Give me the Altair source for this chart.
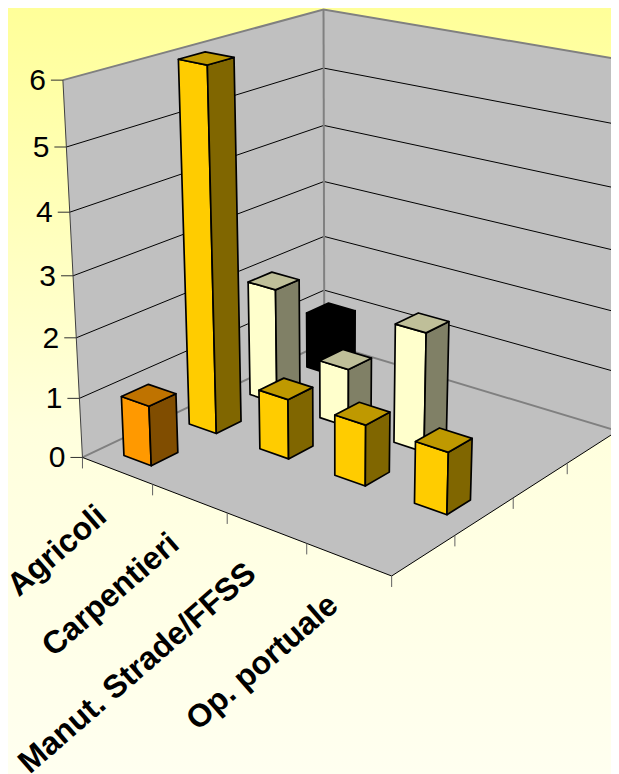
import altair as alt
import numpy as np

W, H = 603, 766
OFF = 8

categories = ["Agricoli", "Carpentieri", "Manut. Strade/FFSS", "Op. portuale"]
y_ticks = [0, 1, 2, 3, 4, 5, 6]
# rows run from the near edge of the floor to the back wall
row_orange = [1, None, None, None]
row_gold = [6, 1, 1, 1]
row_cream = [2, 1, 2, None]
row_black = [1, None, None, None]
rows = [row_orange, row_gold, row_cream, row_black]
# front, side, top
row_colors = [
    ("#FF9900", "#804D00", "#BF7300"),
    ("#FFCC00", "#806600", "#BF9900"),
    ("#FFFFCC", "#808066", "#BFBF99"),
    ("#000000", "#000000", "#000000"),
]
NX, NY, NZ = 4, 4, 6
BAR_X, BAR_Y = 0.39, 0.40

# camera calibration: world (cat, depth, value) -> screen pixel
cal_world = [(0,0,0),(1,0,0),(2,0,0),(3,0,0),(4,0,0),(4,4,0),(0,4,0),
             (4,1,0),(4,2,0),(4,3,0),
             (0,0,1),(0,0,2),(0,0,3),(0,0,4),(0,0,5),(0,0,6),
             (0,4,1),(0,4,2),(0,4,3),(0,4,4),(0,4,5),(0,4,6)]
cal_px = [(83,458),(152,484.3),(227,513),(307,543.5),(392.5,576),(617,430),(324,344),
          (455,536),(513,498.5),(567,463),
          (80,397),(76,337),(73,275),(70,212),(66,148),(62,81),
          (324,291),(324,236.5),(324,180.5),(324,124.5),(324,68),(324,10)]
A, b = [], []
for (X, Y, Z), (u, v) in zip(cal_world, cal_px):
    A.append([X, Y, Z, 1, 0, 0, 0, 0, -u*X, -u*Y, -u*Z]); b.append(u)
    A.append([0, 0, 0, 0, X, Y, Z, 1, -v*X, -v*Y, -v*Z]); b.append(v)
p = np.linalg.lstsq(np.array(A, float), np.array(b, float), rcond=None)[0]
P = np.append(p, 1).reshape(3, 4)

def proj(X, Y, Z):
    q = P @ np.array([X, Y, Z, 1.0])
    return [float(q[0]/q[2]) - OFF, float(q[1]/q[2]) - OFF]

def poly(pts, fill="none"):
    ring = [proj(*c) for c in pts]
    ring.append(ring[0])
    return {"type": "Feature", "properties": {"fill": fill},
            "geometry": {"type": "Polygon", "coordinates": [ring]}}

def line_xy(pts):
    return {"type": "Feature", "properties": {},
            "geometry": {"type": "LineString", "coordinates": pts}}

def line(a, b):
    return line_xy([proj(*a), proj(*b)])

PROJ = dict(type="identity", scale=1, translate=[0, 0])

def shapes(feats):
    return alt.Chart(alt.Data(values=feats))

def lines(feats, color, width):
    return shapes(feats).mark_geoshape(filled=False, stroke=color, strokeWidth=width).project(**PROJ)

# background
bg_rect = [[0, 0], [W, 0], [W, H], [0, H], [0, 0]]
bg = shapes([{"type": "Feature", "properties": {},
              "geometry": {"type": "Polygon", "coordinates": [bg_rect]}}]).mark_geoshape(
    stroke=None,
    fill=alt.LinearGradient(gradient="linear", x1=0, y1=0, x2=0, y2=1,
                            stops=[alt.GradientStop(color="#FFFF99", offset=0),
                                   alt.GradientStop(color="#FFFFDD", offset=0.55),
                                   alt.GradientStop(color="#FFFFF0", offset=1)])
).project(**PROJ)

# walls and floor
walls = shapes([
    poly([(0,0,0),(0,NY,0),(0,NY,NZ),(0,0,NZ)], "#C0C0C0"),
    poly([(0,NY,0),(NX,NY,0),(NX,NY,NZ),(0,NY,NZ)], "#C0C0C0"),
    poly([(0,0,0),(NX,0,0),(NX,NY,0),(0,NY,0)], "#C0C0C0"),
]).mark_geoshape(strokeWidth=0).encode(fill=alt.Fill("properties.fill:N", scale=None)).project(**PROJ)

grid = []
for z in y_ticks[1:-1]:
    grid.append(line_xy([proj(0,0,z), proj(0,NY,z), proj(NX,NY,z)]))
grid_l = lines(grid, "#000000", 1)
edge_grey = lines([
    line_xy([proj(0,0,NZ), proj(0,NY,NZ), proj(NX,NY,NZ)]),
    line((0,NY,0), (0,NY,NZ)),
    line_xy([proj(0,0,0), proj(0,NY,0), proj(NX,NY,0)]),
    line((NX,NY,0), (NX,NY,NZ)),
], "#808080", 2)
edge_left = lines([line((0,0,0), (0,0,NZ))], "#404040", 1)
edge_front = lines([line_xy([proj(0,0,0), proj(NX,0,0), proj(NX,NY,0)])], "#000000", 1)

ticks = []
for i in range(NX + 1):
    a = proj(i, 0, 0); ticks.append(line_xy([a, [a[0], a[1] + 11]]))
for j in range(1, NY + 1):
    a = proj(NX, j, 0); ticks.append(line_xy([a, [a[0], a[1] + 11]]))
ticks_l = lines(ticks, "#606060", 1)
yt = []
for z in y_ticks:
    a = proj(0, 0, z); yt.append(line_xy([a, [a[0] - 12, a[1]]]))
yticks_l = lines(yt, "#303030", 1)

# bars, back to front
bars = []
for j in range(NY - 1, -1, -1):
    front, side, top = row_colors[j]
    for i in range(NX):
        v = rows[j][i]
        if v is None:
            continue
        x0, x1 = i + .5 - BAR_X/2, i + .5 + BAR_X/2
        y0, y1 = j + .5 - BAR_Y/2, j + .5 + BAR_Y/2
        bars.append(poly([(x0,y0,0),(x1,y0,0),(x1,y0,v),(x0,y0,v)], front))
        bars.append(poly([(x1,y0,0),(x1,y1,0),(x1,y1,v),(x1,y0,v)], side))
        bars.append(poly([(x0,y0,v),(x1,y0,v),(x1,y1,v),(x0,y1,v)], top))
bars_l = shapes(bars).mark_geoshape(stroke="#000000", strokeWidth=1.7, strokeJoin="round").encode(
    fill=alt.Fill("properties.fill:N", scale=None)).project(**PROJ)

px = alt.Scale(domain=[0, W], range=[0, W])
py = alt.Scale(domain=[0, H], range=[0, H])

ylab = [{"t": str(z), "x": proj(0,0,z)[0] - 17, "y": proj(0,0,z)[1] + 1} for z in y_ticks]
ylab_l = alt.Chart(alt.Data(values=ylab)).mark_text(
    font="Liberation Sans", fontSize=30, align="right", baseline="middle", color="#000000"
).encode(x=alt.X("x:Q", scale=px, axis=None), y=alt.Y("y:Q", scale=py, axis=None), text="t:N")

clab = []
for i, c in enumerate(categories):
    a = proj(i + .5, 0, 0)
    clab.append({"t": c, "x": a[0] - 15, "y": a[1] + 41})
clab_l = alt.Chart(alt.Data(values=clab)).mark_text(
    font="Liberation Sans", fontSize=32, fontWeight="bold", align="right", baseline="middle",
    angle=319, color="#000000"
).encode(x=alt.X("x:Q", scale=px, axis=None), y=alt.Y("y:Q", scale=py, axis=None), text="t:N")

chart = alt.layer(bg, walls, grid_l, edge_grey, edge_left, edge_front, ticks_l, yticks_l,
                  bars_l, ylab_l, clab_l).properties(
    width=W, height=H, autosize=alt.AutoSizeParams(type="none"), padding=0
).configure_view(stroke=None)

chart.save("out.html", embed_options={"renderer": "svg", "actions": False})
